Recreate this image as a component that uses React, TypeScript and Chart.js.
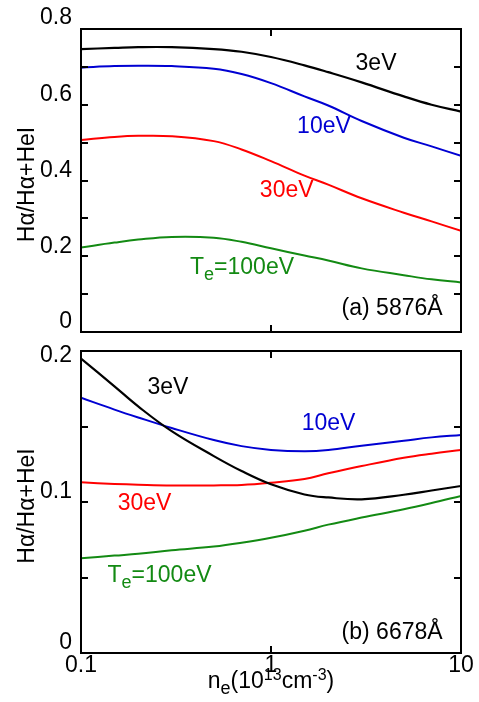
import React, { useEffect, useRef } from 'react';
import { Chart, registerables } from 'chart.js';

Chart.register(...registerables);

// Electron density n_e (10^13 cm^-3)
const densities = [0.1, 0.15, 0.2, 0.3, 0.5, 0.7, 1, 1.5, 2, 3, 5, 7, 10];

// (a) 5876Å : Hα/(Hα+HeI)
const topTe3 = [0.747, 0.75, 0.752, 0.752, 0.747, 0.74, 0.726, 0.704, 0.686, 0.659, 0.622, 0.6, 0.582];
const topTe10 = [0.698, 0.702, 0.703, 0.702, 0.695, 0.681, 0.657, 0.622, 0.598, 0.557, 0.513, 0.49, 0.465];
const topTe30 = [0.507, 0.515, 0.518, 0.517, 0.504, 0.482, 0.451, 0.413, 0.389, 0.353, 0.315, 0.292, 0.267];
const topTe100 = [0.223, 0.236, 0.244, 0.251, 0.249, 0.238, 0.221, 0.202, 0.189, 0.168, 0.15, 0.139, 0.131];

// (b) 6678Å : Hα/(Hα+HeI)
const botTe3 = [0.195, 0.1766, 0.1633, 0.1469, 0.1304, 0.1205, 0.1117, 0.105, 0.103, 0.1018, 0.1048, 0.1076, 0.1106];
const botTe10 = [0.169, 0.1612, 0.156, 0.149, 0.141, 0.137, 0.1345, 0.1336, 0.1344, 0.1373, 0.1406, 0.1428, 0.1444];
const botTe30 = [0.113, 0.112, 0.1115, 0.111, 0.111, 0.1113, 0.1128, 0.1153, 0.119, 0.1238, 0.1293, 0.132, 0.1344];
const botTe100 = [0.0627, 0.0645, 0.0657, 0.068, 0.0705, 0.073, 0.0763, 0.081, 0.085, 0.0897, 0.0952, 0.0993, 0.104];

const seriesNames = ['3eV', '10eV', '30eV', 'T_e=100eV'];
const seriesColors = ['#000000', '#0000d2', '#ff0000', '#138a13'];

// axis ticks
const topYMax = 0.8;
const botYMax = 0.2;
const topYMinorTicks = [0.1, 0.2, 0.3, 0.4, 0.5, 0.6, 0.7];
const botYMinorTicks = [0.05, 0.1, 0.15];
const topYLabels = [0, 0.2, 0.4, 0.6, 0.8];
const botYLabels = [0, 0.1, 0.2];
const xMinorTicks = [1];
const xLabels = [0.1, 1, 10];

// in-plot label anchors (data coordinates)
const topNoteX = [3.57, 1.9, 1.21, 0.704];
const topNoteY = [0.714, 0.5465, 0.378, 0.174];
const botNoteX = [0.287, 2.01, 0.216, 0.259];
const botNoteY = [0.177, 0.1533, 0.1003, 0.0526];
const panelTags = ['(a) 5876Å', '(b) 6678Å'];
const tagX = [4.34, 4.34];
const tagY = [0.066, 0.0148];

const yTitle = 'Hα/Hα+HeI';
const xTitle = 'n_e(10^{13}cm^{-3})';

const FONT = '"Liberation Sans", Arial, Helvetica, sans-serif';
const MAIN = 23;
const SUB = 18;
const SUP = 16;

type Seg = { t: string; k: number };
function parseRich(s: string): Seg[] {
  const out: Seg[] = [];
  let buf = '';
  let i = 0;
  while (i < s.length) {
    const c = s[i];
    if (c === '_' || c === '^') {
      if (buf) {
        out.push({ t: buf, k: 0 });
        buf = '';
      }
      let t = '';
      if (s[i + 1] === '{') {
        const j = s.indexOf('}', i + 2);
        t = s.slice(i + 2, j);
        i = j + 1;
      } else {
        t = s[i + 1];
        i += 2;
      }
      out.push({ t, k: c === '_' ? 1 : -1 });
    } else {
      buf += c;
      i++;
    }
  }
  if (buf) out.push({ t: buf, k: 0 });
  return out;
}

function segFont(k: number) {
  return `${k === 1 ? SUB : k === -1 ? SUP : MAIN}px ${FONT}`;
}

// draws centred rich text; cy is the visual centre of the capital letters
function drawRich(ctx: CanvasRenderingContext2D, s: string, cx: number, cy: number, color: string) {
  const segs = parseRich(s);
  const baseline = cy + 0.358 * MAIN;
  ctx.save();
  ctx.fillStyle = color;
  ctx.textBaseline = 'alphabetic';
  ctx.textAlign = 'left';
  let total = 0;
  const widths = segs.map((sg) => {
    ctx.font = segFont(sg.k);
    const w = ctx.measureText(sg.t).width;
    total += w;
    return w;
  });
  let x = cx - total / 2;
  segs.forEach((sg, i) => {
    ctx.font = segFont(sg.k);
    const dy = sg.k === 1 ? 6 : sg.k === -1 ? -8 : 0;
    ctx.fillText(sg.t, x, baseline + dy);
    x += widths[i];
  });
  ctx.restore();
}

type PanelDef = {
  series: number[][];
  yMax: number;
  yMinor: number[];
  yLabels: number[];
  noteX: number[];
  noteY: number[];
  tag: string;
  tagX: number;
  tagY: number;
  topLabelShift: number;
  showX: boolean;
  padding: { left: number; right: number; top: number; bottom: number };
};

function framePlugin(def: PanelDef) {
  return {
    id: 'frameAndText',
    afterDraw(chart: any) {
      const ctx: CanvasRenderingContext2D = chart.ctx;
      const { left, right, top, bottom } = chart.chartArea;
      const xs = chart.scales.x;
      const ys = chart.scales.y;
      ctx.save();
      ctx.strokeStyle = '#000';
      ctx.lineWidth = 2;
      ctx.lineCap = 'butt';
      ctx.strokeRect(left, top, right - left, bottom - top);
      const TL = 7;
      ctx.beginPath();
      def.yMinor.forEach((v) => {
        const py = Math.round(ys.getPixelForValue(v));
        ctx.moveTo(left, py);
        ctx.lineTo(left + TL, py);
        ctx.moveTo(right, py);
        ctx.lineTo(right - TL, py);
      });
      xMinorTicks.forEach((v) => {
        const px = Math.round(xs.getPixelForValue(v));
        ctx.moveTo(px, top);
        ctx.lineTo(px, top + TL);
        ctx.moveTo(px, bottom);
        ctx.lineTo(px, bottom - TL);
      });
      ctx.stroke();

      // y tick labels
      ctx.fillStyle = '#000';
      ctx.font = `${MAIN}px ${FONT}`;
      ctx.textAlign = 'right';
      ctx.textBaseline = 'middle';
      def.yLabels.forEach((v) => {
        const isTop = v === def.yMax;
        const py = ys.getPixelForValue(v) + (isTop ? def.topLabelShift : -11);
        ctx.fillText(String(v), left - 9, py + 1);
      });

      // y title
      ctx.save();
      ctx.translate(28, (top + bottom) / 2 + 4);
      ctx.rotate(-Math.PI / 2);
      ctx.textAlign = 'center';
      ctx.textBaseline = 'middle';
      ctx.font = `${MAIN}px ${FONT}`;
      ctx.fillText(yTitle, 0, 0);
      ctx.restore();

      // series labels
      seriesNames.forEach((name, i) => {
        drawRich(ctx, name, xs.getPixelForValue(def.noteX[i]), ys.getPixelForValue(def.noteY[i]), seriesColors[i]);
      });
      drawRich(ctx, def.tag, xs.getPixelForValue(def.tagX), ys.getPixelForValue(def.tagY), '#000');

      if (def.showX) {
        ctx.font = `${MAIN}px ${FONT}`;
        ctx.textAlign = 'center';
        ctx.textBaseline = 'middle';
        ctx.fillStyle = '#000';
        xLabels.forEach((v) => {
          ctx.fillText(String(v), xs.getPixelForValue(v), bottom + 13);
        });
        drawRich(ctx, xTitle, (left + right) / 2, bottom + 27, '#000');
      }
      ctx.restore();
    },
  };
}

function buildConfig(def: PanelDef): any {
  return {
    type: 'line',
    data: {
      datasets: def.series.map((vals, i) => ({
        label: seriesNames[i],
        data: densities.map((x, j) => ({ x, y: vals[j] })),
        borderColor: seriesColors[i],
        backgroundColor: seriesColors[i],
        borderWidth: i === 0 ? 2.2 : 2,
        pointRadius: 0,
        fill: false,
        tension: 0.4,
      })),
    },
    options: {
      responsive: false,
      maintainAspectRatio: false,
      animation: false,
      layout: { padding: def.padding },
      plugins: { legend: { display: false }, tooltip: { enabled: false } },
      scales: {
        x: { type: 'logarithmic', min: 0.1, max: 10, display: false },
        y: { type: 'linear', min: 0, max: def.yMax, display: false },
      },
    },
    plugins: [framePlugin(def)],
  };
}

function Panel({ def, top, height }: { def: PanelDef; top: number; height: number }) {
  const ref = useRef<HTMLCanvasElement>(null);
  useEffect(() => {
    const chart = new Chart(ref.current as HTMLCanvasElement, buildConfig(def));
    return () => chart.destroy();
  }, []);
  return (
    <canvas
      ref={ref}
      width={479}
      height={height}
      style={{ position: 'absolute', left: 0, top, width: 479, height, display: 'block' }}
    />
  );
}

const topPanel: PanelDef = {
  series: [topTe3, topTe10, topTe30, topTe100],
  yMax: topYMax,
  yMinor: topYMinorTicks,
  yLabels: topYLabels,
  noteX: topNoteX,
  noteY: topNoteY,
  tag: panelTags[0],
  tagX: tagX[0],
  tagY: tagY[0],
  topLabelShift: -12,
  showX: false,
  padding: { left: 81, right: 18, top: 29, bottom: 13 },
};

const botPanel: PanelDef = {
  series: [botTe3, botTe10, botTe30, botTe100],
  yMax: botYMax,
  yMinor: botYMinorTicks,
  yLabels: botYLabels,
  noteX: botNoteX,
  noteY: botNoteY,
  tag: panelTags[1],
  tagX: tagX[1],
  tagY: tagY[1],
  topLabelShift: 4,
  showX: true,
  padding: { left: 81, right: 18, top: 6, bottom: 49 },
};

export default function App() {
  return (
    <div style={{ position: 'absolute', left: 0, top: 0, width: 479, height: 702, background: '#fff' }}>
      <Panel def={topPanel} top={0} height={345} />
      <Panel def={botPanel} top={345} height={357} />
    </div>
  );
}
